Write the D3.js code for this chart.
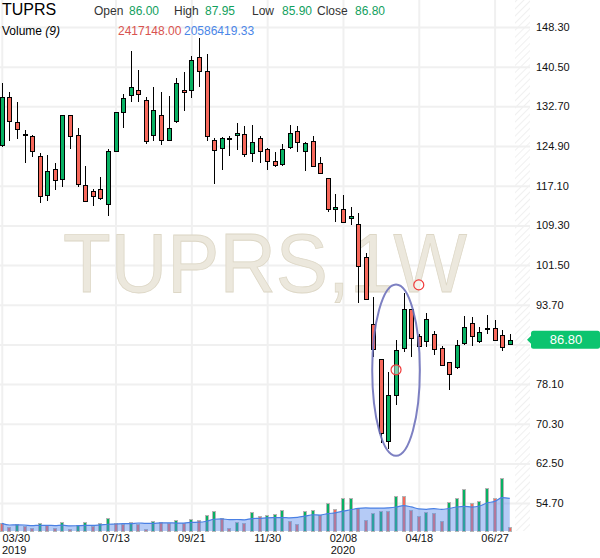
<!DOCTYPE html>
<html>
<head>
<meta charset="utf-8">
<script src="https://cdn.jsdelivr.net/npm/d3@7"></script>
<style>
  html, body { margin: 0; padding: 0; background: #fff; }
  svg { display: block; font-family: Arial, "Liberation Sans", sans-serif; }
</style>
</head>
<body>
<div id="chart"></div>
<script>
// ============================================
// TUPRS weekly candles + volume (D3.js)
// ============================================

const symbol = 'TUPRS';
const interval = '1W';
const firstWeek = '2019-03-30';

// OHLC per week
const open = [125.05,134.48,129.57,127.35,126.87,122.88,115.22,120.33,118.36,130.94,
  127.01,117.18,116.0,116.4,113.45,123.87,131.53,134.87,135.86,133.89,
  127.01,130.94,126.03,129.76,135.86,135.86,142.34,139.59,126.03,124.45,
  126.55,127.01,127.21,123.47,126.42,124.26,121.9,121.31,124.65,127.8,
  123.87,125.83,121.51,118.56,112.46,112.46,110.69,109.51,103.03,89.86,
  82.98,66.98,75.9,85.14,92.81,87.5,86.52,87.89,85.14,82.39,
  81.4,86.12,90.05,86.52,89.07,89.07,87.69,86.00];
const high = [137.23,135.46,133.5,127.99,127.13,123.53,123.14,121.51,131.0,131.0,
  128.39,120.92,116.4,118.75,124.32,131.6,135.07,143.52,139.79,134.48,
  136.45,135.46,134.68,138.22,139.39,142.54,146.2,142.93,126.42,126.62,
  126.81,129.37,128.78,128.98,126.81,124.45,123.67,125.24,128.98,128.78,
  125.63,126.81,122.69,118.6,115.41,115.22,112.86,111.68,103.81,95.28,
  83.0,80.42,86.71,95.95,92.9,87.89,92.02,88.48,85.53,82.4,
  86.71,91.43,91.23,89.27,91.63,90.64,88.68,87.95];
const low = [124.77,125.95,126.28,121.62,122.8,113.76,114.04,116.32,116.91,124.26,
  116.91,113.9,113.17,114.23,111.21,123.67,128.39,133.5,133.62,125.24,
  125.83,125.05,126.0,129.37,131.73,134.28,136.45,125.83,117.38,120.13,
  122.88,124.06,122.69,121.7,121.51,120.13,120.72,120.92,124.26,123.67,
  119.93,120.72,119.34,111.99,109.91,109.9,109.32,93.98,94.7,83.49,
  66.46,65.28,73.93,84.35,83.37,85.5,85.34,83.76,81.7,76.88,
  81.01,85.73,85.53,86.12,87.89,86.52,84.55,85.90];
const close = [134.48,129.76,128.19,127.35,123.87,115.02,119.93,118.16,130.94,126.81,
  117.38,114.04,115.02,114.63,123.87,131.53,134.28,136.45,135.07,125.83,
  131.92,126.03,128.39,137.23,135.46,141.75,139.59,126.81,124.06,126.42,
  126.55,127.4,123.28,125.63,123.87,121.9,121.11,124.26,127.4,125.63,
  125.44,120.92,119.54,112.46,112.86,109.91,111.09,101.26,94.77,84.94,
  68.55,75.9,84.75,92.81,87.1,85.53,90.84,84.94,81.8,80.03,
  85.73,89.27,87.5,88.28,89.07,86.71,85.34,86.80];
const volume = [4830000,2730000,4200000,3360000,1680000,4830000,3570000,2100000,5460000,1200000,
  3780000,5880000,3150000,4830000,8400000,4830000,4200000,5880000,4410000,1470000,
  6500000,5880000,4830000,7140000,4830000,7770000,6930000,10080000,12600000,8400000,
  1890000,5670000,5250000,11760000,9450000,9860000,10900000,13200000,6500000,4600000,
  12600000,13200000,10080000,17840000,14060000,20600000,20800000,14700000,6930000,11550000,
  12600000,12400000,22300000,22100000,13200000,9650000,11960000,11550000,6500000,18470000,
  20500000,26200000,17840000,19100000,26800000,20780000,33170626,2417148];
const maPeriod = 9;

// axis ticks
const priceTicks = [148.3,140.5,132.7,124.9,117.1,109.3,101.5,93.7,85.9,78.1,70.3,62.5,54.7];
const dateTicks = ['2019-03-30','2019-07-13','2019-09-21','2019-11-30','2020-02-08','2020-04-18','2020-06-27'];
const yearTicks = ['2019-03-30','2020-02-08'];

// hand-drawn notes on the chart
const noteEllipse = { date: '2020-03-28', halfWeeks: 3.1, top: 97.7, bottom: 64.0 };
const noteCircles = [
  { date: '2020-04-18', price: 97.6 },
  { date: '2020-03-28', price: 80.9 }
];

// ---------- layout ----------
const W = 600, H = 558;
const plotRight = 515;   // last bar area
const axisX = 530;       // price axis
const baseY = 531;       // bottom of chart / volume baseline
const green = '#08b163', red = '#f7685b';
const font = 'Arial, "Liberation Sans", sans-serif';

const parse = d3.timeParse('%Y-%m-%d');
const start = parse(firstWeek);
const dates = open.map((_, i) => d3.timeWeek.offset(start, i));
const bars = dates.map((d, i) => ({
  date: d, o: open[i], h: high[i], l: low[i], c: close[i], v: volume[i],
  vUp: i === 0 ? false : volume[i] >= volume[i - 1]
}));
bars.forEach((b, i) => {
  const from = Math.max(0, i - maPeriod + 1);
  b.ma = d3.mean(volume.slice(from, i + 1));
});
const last = bars[bars.length - 1];

const x = d3.scaleTime()
  .domain([parse('2019-03-30'), parse('2020-06-27')])
  .range([1.8, 494.6]);
const y = d3.scaleLinear().domain([54.7, 148.3]).range([503.1, 27]);
const yv = d3.scaleLinear().domain([0, 40e6]).range([baseY, baseY - 63.5]);

const svg = d3.select('#chart').append('svg')
  .attr('width', W).attr('height', H);

// hatch pattern for the empty right margin
const defs = svg.append('defs');
defs.append('pattern')
  .attr('id', 'hatch').attr('width', 5).attr('height', 5)
  .attr('patternUnits', 'userSpaceOnUse')
  .attr('patternTransform', 'rotate(45)')
  .append('line')
  .attr('x1', 0).attr('y1', 0).attr('x2', 0).attr('y2', 5)
  .attr('stroke', '#ebebeb').attr('stroke-width', 1.5);

svg.append('rect')
  .attr('x', plotRight).attr('y', 0)
  .attr('width', axisX - plotRight).attr('height', baseY)
  .attr('fill', 'url(#hatch)');

// price axis + horizontal grid (label under the last-price tag is hidden)
const yAxis = svg.append('g')
  .attr('transform', `translate(${axisX},0)`)
  .call(d3.axisRight(y)
    .tickValues(priceTicks)
    .tickSize(-axisX)
    .tickPadding(6)
    .tickFormat(d => Math.abs(y(d) - y(last.c)) < 12 ? '' : d3.format('.2f')(d)));
yAxis.select('.domain').remove();
yAxis.selectAll('line').attr('stroke', '#f0f0f0').attr('stroke-width', 2);
yAxis.selectAll('text')
  .attr('fill', '#111').style('font-size', '11px').style('font-family', font);

// date axis + vertical grid
const xAxis = svg.append('g')
  .attr('transform', `translate(0,${baseY})`)
  .call(d3.axisBottom(x)
    .tickValues(dateTicks.map(parse))
    .tickSize(-baseY)
    .tickPadding(3)
    .tickFormat(d3.timeFormat('%m/%d')));
xAxis.select('.domain').remove();
xAxis.selectAll('line').attr('stroke', '#f0f0f0').attr('stroke-width', 2);
xAxis.selectAll('text')
  .attr('fill', '#111').style('font-size', '11px').style('font-family', font)
  .attr('text-anchor', (d, i) => i === 0 ? 'start' : 'middle')
  .attr('x', (d, i) => i === 0 ? 2 - x(d) : 0);

svg.selectAll('.year')
  .data(yearTicks.map(parse))
  .enter().append('text')
  .attr('class', 'year')
  .attr('x', (d, i) => i === 0 ? 2 : x(d))
  .attr('y', 554)
  .attr('text-anchor', (d, i) => i === 0 ? 'start' : 'middle')
  .style('font-size', '11px').style('font-family', font)
  .attr('fill', '#111')
  .text(d3.timeFormat('%Y'));

// watermark
svg.append('text')
  .attr('x', 63).attr('y', 292)
  .attr('textLength', 404).attr('lengthAdjust', 'spacingAndGlyphs')
  .style('font-size', '84px').style('font-family', font)
  .attr('fill', '#ece8dd').attr('stroke', '#ddd7c6').attr('stroke-width', 0.8)
  .text(`${symbol},${interval}`);

const px = d => Math.round(x(d));

// volume bars
svg.selectAll('.vol')
  .data(bars)
  .enter().append('rect')
  .attr('class', 'vol')
  .attr('x', d => px(d.date) - 1.5)
  .attr('y', d => Math.round(yv(d.v)) + 0.5)
  .attr('width', 3)
  .attr('height', d => Math.max(1, baseY - Math.round(yv(d.v))))
  .attr('fill', d => d.vUp ? green : red)
  .attr('stroke', '#b5b5b5').attr('stroke-width', 1)
  .attr('shape-rendering', 'crispEdges');

// volume moving average
const maArea = d3.area()
  .x(d => x(d.date))
  .y0(baseY)
  .y1(d => yv(d.ma))
  .curve(d3.curveMonotoneX);
const maLine = d3.line()
  .x(d => x(d.date))
  .y(d => yv(d.ma))
  .curve(d3.curveMonotoneX);
svg.append('path').datum(bars)
  .attr('d', maArea)
  .attr('fill', 'rgba(90,140,235,0.45)');
svg.append('path').datum(bars)
  .attr('d', maLine)
  .attr('fill', 'none').attr('stroke', '#4a80e4').attr('stroke-width', 1.2);

// candles
const candle = svg.selectAll('.candle')
  .data(bars)
  .enter().append('g')
  .attr('class', 'candle')
  .attr('shape-rendering', 'crispEdges');

candle.append('line')
  .attr('x1', d => px(d.date) + 0.5).attr('x2', d => px(d.date) + 0.5)
  .attr('y1', d => Math.round(y(d.h))).attr('y2', d => Math.round(y(d.l)))
  .attr('stroke', '#000').attr('stroke-width', 1);

candle.append('rect')
  .attr('x', d => px(d.date) - 1.5)
  .attr('y', d => Math.round(y(Math.max(d.o, d.c))) + 0.5)
  .attr('width', 4)
  .attr('height', d => Math.max(1, Math.round(y(Math.min(d.o, d.c))) - Math.round(y(Math.max(d.o, d.c)))))
  .attr('fill', d => d.c > d.o ? green : d.c < d.o ? red : '#000')
  .attr('stroke', '#000').attr('stroke-width', 1);

// notes
const nt = parse(noteEllipse.date);
svg.append('ellipse')
  .attr('cx', x(nt))
  .attr('cy', (y(noteEllipse.top) + y(noteEllipse.bottom)) / 2)
  .attr('rx', x(d3.timeDay.offset(nt, Math.round(noteEllipse.halfWeeks * 7))) - x(nt))
  .attr('ry', (y(noteEllipse.bottom) - y(noteEllipse.top)) / 2)
  .attr('fill', 'none').attr('stroke', '#6f72bb').attr('stroke-width', 2)
  .attr('stroke-opacity', 0.9);

svg.selectAll('.note')
  .data(noteCircles)
  .enter().append('circle')
  .attr('class', 'note')
  .attr('cx', d => x(parse(d.date)))
  .attr('cy', d => y(d.price))
  .attr('r', 5)
  .attr('fill', 'rgba(255,255,255,0.45)')
  .attr('stroke', '#f03a3a').attr('stroke-width', 1.2);

// last price label
const ly = y(last.c);
svg.append('path')
  .attr('d', `M527,${ly} L532,${ly - 5} L532,${ly + 5} Z`)
  .attr('fill', '#0cc46f');
svg.append('rect')
  .attr('x', 531).attr('y', ly - 9).attr('width', 69).attr('height', 18).attr('rx', 2.5)
  .attr('fill', '#0cc46f');
svg.append('text')
  .attr('x', 566).attr('y', ly + 4.6)
  .attr('text-anchor', 'middle')
  .style('font-size', '13px').style('font-family', font)
  .attr('fill', '#fff')
  .text(last.c.toFixed(2));

// header
svg.append('text')
  .attr('x', 2).attr('y', 15)
  .style('font-size', '16px').style('font-family', font)
  .attr('fill', '#000').text(symbol);

const ohlc = [
  { label: 'Open', value: last.o, lx: 94, vx: 129 },
  { label: 'High', value: last.h, lx: 174, vx: 205 },
  { label: 'Low', value: last.l, lx: 252, vx: 282 },
  { label: 'Close', value: last.c, lx: 317, vx: 355 }
];
ohlc.forEach(item => {
  svg.append('text')
    .attr('x', item.lx).attr('y', 15)
    .style('font-size', '12px').style('font-family', font)
    .attr('fill', '#333').text(item.label);
  svg.append('text')
    .attr('x', item.vx).attr('y', 15)
    .style('font-size', '12px').style('font-family', font)
    .attr('fill', '#12a05e').text(item.value.toFixed(2));
});

const volLabel = svg.append('text')
  .attr('x', 2).attr('y', 35)
  .style('font-size', '12px').style('font-family', font)
  .attr('fill', '#000');
volLabel.append('tspan').text('Volume ');
volLabel.append('tspan').style('font-style', 'italic').text(`(${maPeriod})`);

svg.append('text')
  .attr('x', 118).attr('y', 35)
  .style('font-size', '12px').style('font-family', font)
  .attr('fill', '#d9534f').text(last.v.toFixed(2));
svg.append('text')
  .attr('x', 184).attr('y', 35)
  .style('font-size', '12px').style('font-family', font)
  .attr('fill', '#4a86e8').text(last.ma.toFixed(2));
</script>
</body>
</html>
